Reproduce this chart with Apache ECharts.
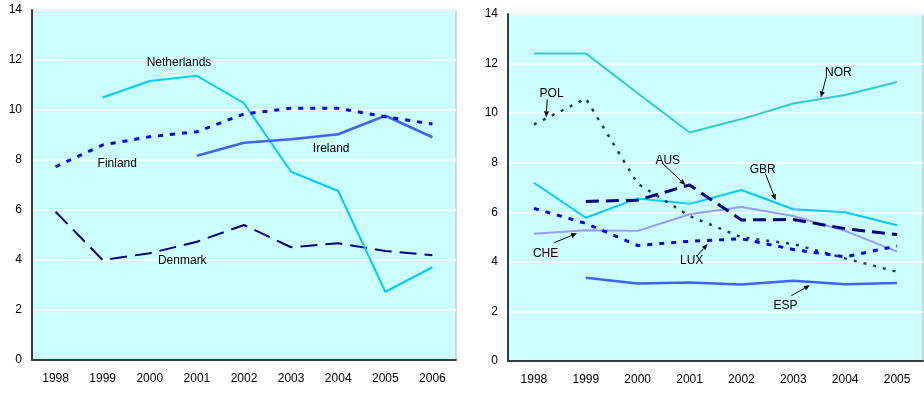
<!DOCTYPE html>
<html><head><meta charset="utf-8">
<script src="https://cdn.jsdelivr.net/npm/echarts@6/dist/echarts.min.js"></script>
<style>html,body{margin:0;padding:0;background:#fff}#c{width:924px;height:395px}</style>
</head><body><div id="c"></div>
<script>
const leftYears = ['1998','1999','2000','2001','2002','2003','2004','2005','2006'];
const rightYears = ['1998','1999','2000','2001','2002','2003','2004','2005'];
const yMin = 0, yMax = 14, yStep = 2;

// Left panel
const netherlands = [null, 10.5, 11.16, 11.37, 10.27, 7.53, 6.76, 2.73, 3.71];
const finland = [7.73, 8.6, 8.93, 9.13, 9.84, 10.07, 10.07, 9.73, 9.44];
const ireland = [null, null, null, 8.17, 8.69, 8.83, 9.03, 9.77, 8.91];
const denmark = [5.93, 4.0, 4.27, 4.73, 5.4, 4.51, 4.67, 4.36, 4.19];

// Right panel
const nor = [12.41, 12.41, 10.8, 9.22, 9.76, 10.39, 10.73, 11.26];
const pol = [9.54, 10.59, 7.15, 5.85, 4.99, 4.72, 4.14, 3.6];
const gbr = [7.19, 5.78, 6.56, 6.34, 6.9, 6.12, 6.0, 5.48];
const aus = [null, 6.44, 6.49, 7.1, 5.69, 5.71, 5.34, 5.1];
const che = [5.13, 5.28, 5.25, 5.92, 6.21, 5.85, 5.25, 4.41];
const lux = [6.16, 5.55, 4.66, 4.83, 4.93, 4.5, 4.2, 4.64];
const esp = [null, 3.36, 3.13, 3.17, 3.09, 3.24, 3.1, 3.15];

// Annotations (in data units: category index, value)
const labels = [
  {g:0, t:'Netherlands', x:2.62, y:11.88},
  {g:0, t:'Finland', x:1.31, y:7.84},
  {g:0, t:'Ireland', x:5.85, y:8.44},
  {g:0, t:'Denmark', x:2.69, y:3.96},
  {g:1, t:'POL', x:0.34, y:10.79},
  {g:1, t:'NOR', x:5.87, y:11.63},
  {g:1, t:'AUS', x:2.58, y:8.08},
  {g:1, t:'GBR', x:4.41, y:7.70},
  {g:1, t:'CHE', x:0.225, y:4.31},
  {g:1, t:'LUX', x:3.04, y:4.04},
  {g:1, t:'ESP', x:4.85, y:2.22}
];
const arrows = [
  {g:1, x1:0.256, y1:10.56, x2:0.237, y2:9.83},
  {g:1, x1:5.64, y1:11.49, x2:5.53, y2:10.63},
  {g:1, x1:2.48, y1:7.97, x2:2.92, y2:7.1},
  {g:1, x1:4.46, y1:7.57, x2:4.66, y2:6.49},
  {g:1, x1:0.385, y1:4.77, x2:0.83, y2:5.15},
  {g:1, x1:3.14, y1:4.23, x2:3.35, y2:4.72},
  {g:1, x1:4.96, y1:2.63, x2:5.32, y2:3.06}
];

const FONT = '"Liberation Sans", Arial, sans-serif';
const chart = echarts.init(document.getElementById('c'), null, {renderer:'canvas'});

function xAxisCfg(gi, data){
  return {type:'category', gridIndex:gi, data:data, boundaryGap:true,
    axisLine:{show:true, lineStyle:{color:'#3a3a3a', width:2}},
    axisTick:{show:false},
    axisLabel:{color:'#000', fontSize:12, fontFamily:FONT, margin:13},
    splitLine:{show:false}};
}
function yAxisCfg(gi){
  return {type:'value', gridIndex:gi, min:yMin, max:yMax, interval:yStep,
    axisLine:{show:true, lineStyle:{color:'#3a3a3a', width:2}},
    axisTick:{show:false},
    axisLabel:{color:'#000', fontSize:12, fontFamily:FONT, margin:10},
    splitLine:{show:true, lineStyle:{color:'#ffffff', width:1.5}}};
}
function line(name, gi, data, color, width, type){
  return {name:name, type:'line', xAxisIndex:gi, yAxisIndex:gi, data:data,
    symbol:'none', connectNulls:false, silent:true, animation:false,
    lineStyle:{color:color, width:width, type:type||'solid', cap:'butt'}};
}

chart.setOption({
  animation:false,
  grid:[
    {left:32, right:468, top:10, bottom:35, show:true, backgroundColor:'#CCFFFF', borderColor:'#b5b5b5', borderWidth:1},
    {left:508, right:1, top:14, bottom:34, show:true, backgroundColor:'#CCFFFF', borderColor:'#b5b5b5', borderWidth:1}
  ],
  xAxis:[xAxisCfg(0, leftYears), xAxisCfg(1, rightYears)],
  yAxis:[yAxisCfg(0), yAxisCfg(1)],
  series:[
    line('Denmark', 0, denmark, '#000080', 2, [17,8]),
    line('Netherlands', 0, netherlands, '#00CCFF', 2),
    line('Ireland', 0, ireland, '#3F63F5', 2.5),
    line('Finland', 0, finland, '#0000FF', 3, [5,7]),
    line('NOR', 1, nor, '#33CCCC', 2),
    line('ESP', 1, esp, '#3F63F5', 2.5),
    line('CHE', 1, che, '#9999FF', 2),
    line('GBR', 1, gbr, '#00CCFF', 2),
    line('AUS', 1, aus, '#000080', 3, [13,7]),
    line('POL', 1, pol, '#1F3A6E', 2.5, [3,7]),
    line('LUX', 1, lux, '#0000FF', 3, [5,7])
  ]
});

function toPx(g, xi, y){
  const a = chart.convertToPixel({gridIndex:g}, [0, y]);
  const b = chart.convertToPixel({gridIndex:g}, [1, y]);
  return [a[0] + xi*(b[0]-a[0]), a[1]];
}
const els = [];
labels.forEach(l => {
  const p = toPx(l.g, l.x, l.y);
  els.push({type:'text', silent:true, z:100, style:{text:l.t, x:p[0], y:p[1], fill:'#000',
    font:'12px ' + FONT, align:'center', verticalAlign:'middle'}});
});
arrows.forEach(a => {
  const p1 = toPx(a.g, a.x1, a.y1), p2 = toPx(a.g, a.x2, a.y2);
  const dx = p2[0]-p1[0], dy = p2[1]-p1[1], L = Math.sqrt(dx*dx+dy*dy);
  const ux = dx/L, uy = dy/L, hl = 6, hw = 2.5;
  const bx = p2[0]-ux*hl, by = p2[1]-uy*hl;
  els.push({type:'line', silent:true, z:100, shape:{x1:p1[0], y1:p1[1], x2:bx, y2:by}, style:{stroke:'#000', lineWidth:1}});
  els.push({type:'polygon', silent:true, z:100, shape:{points:[[p2[0],p2[1]],[bx-uy*hw, by+ux*hw],[bx+uy*hw, by-ux*hw]]}, style:{fill:'#000'}});
});
chart.setOption({graphic:els});
</script>
</body></html>
